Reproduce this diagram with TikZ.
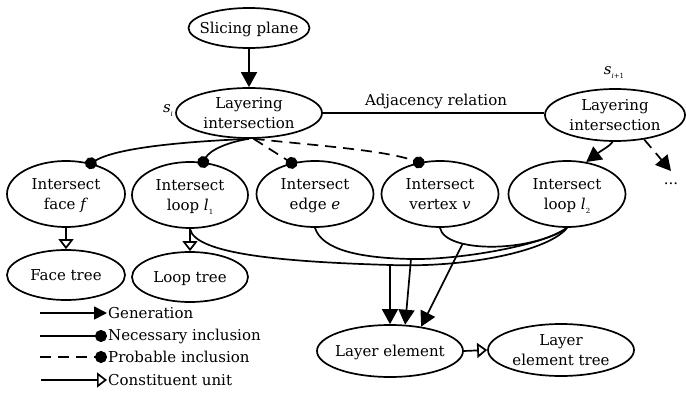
\documentclass[tikz,border=0pt]{standalone}
\usepackage{fontspec}
\setmainfont{DejaVu Serif}
\usetikzlibrary{shapes.geometric,arrows.meta}
\newcommand{\ctext}[1]{\makebox[0pt]{\raisebox{-5.5pt}[0pt][0pt]{\begin{tabular}{@{}c@{}}#1\end{tabular}}}}
\newcommand{\tinysub}[1]{\raisebox{-4pt}{\fontsize{7}{7}\selectfont\textit{#1}}}
\newcommand{\tinyup}[1]{\raisebox{-4pt}{\fontsize{7}{7}\selectfont #1}}
\tikzset{
  ell/.style 2 args={ellipse, draw, line width=1.7pt, inner sep=0pt, minimum width=#1pt, minimum height=#2pt},
  lbl/.style={inner sep=1pt},
  ln/.style={line width=1.7pt},
  gen/.style={ln, -{Triangle[length=15pt,width=16pt]}},
  gensm/.style={ln, -{Triangle[length=13pt,width=13pt]}},
  nec/.style={ln, -{Circle[length=12pt]}},
  necx/.style={nec, shorten >=-6pt},
  dsh/.style={dash pattern=on 11pt off 7pt},
  con/.style={ln, -{Triangle[open,length=10pt,width=15pt,line width=1.7pt]}},
  every node/.style={font=\fontsize{15}{20}\selectfont}
}
\begin{document}
\begin{tikzpicture}[x=1pt,y=-1pt]
\useasboundingbox (0,0) rectangle (686,393);
% nodes
\node[ell={121}{40}] (SP) at (249,28) {\ctext{Slicing plane}};
\node[ell={146}{50}] (Li) at (249,113) {\ctext{Layering\\intersection}};
\node[ell={140}{52}] (Lj) at (615,115) {\ctext{Layering\\intersection}};
\node[lbl] (si) at (168,111) {\textit{s}\tinysub{i}};
\node[lbl] (sj) at (614,73) {\textit{s}\tinysub{i}\tinyup{+1}};
\node[lbl] (adj) at (436,101) {Adjacency relation};
\node[ell={118}{66}] (F) at (66,194) {\ctext{Intersect\\face \textit{f}}};
\node[ell={116}{66}] (L1) at (190,195) {\ctext{Intersect\\loop \textit{l}\tinyup{1}}};
\node[ell={117}{66}] (E) at (315,194) {\ctext{Intersect\\edge \textit{e}}};
\node[ell={117}{66}] (V) at (440,194) {\ctext{Intersect\\vertex \textit{v}}};
\node[ell={117}{66}] (L2) at (567,194) {\ctext{Intersect\\loop \textit{l}\tinyup{2}}};
\node[anchor=north, inner sep=0pt, text height=13pt] (dots) at (671,171) {...};
\node[ell={118}{50}] (FT) at (66,275) {\ctext{Face tree}};
\node[ell={116}{50}] (LT) at (190,277) {\ctext{Loop tree}};
\node[ell={146}{52}] (LE) at (390,351) {\ctext{Layer element}};
\node[ell={146}{52}] (LET) at (561,350) {\ctext{Layer\\element tree}};
% top connectors
\draw[gen] (SP.south) -- (Li.north);
\draw[ln] (Li.east) -- (Li.east -| Lj.west);
\draw[necx] (Li.south) .. controls (200,141) and (120,146) .. (F.51);
\draw[necx] (Li.south) .. controls (228,142) and (210,150) .. (L1.68);
\draw[necx,dsh] (Li.-80) -- (E.127);
\draw[necx,dsh] (Li.-80) .. controls (310,145) and (385,150) .. (V.124);
\draw[gen] (Lj.265) .. controls (610,146) and (602,150) .. (L2.59);
\draw[gen,dsh] (Lj.-40) -- (dots.north);
% constituent
\draw[con] (F.south) -- (FT.north);
\draw[con] (L1.south) -- (LT.north);
\draw[con] (LE.east) -- (LET.west);
% generation joins
\coordinate (m1) at (390,265);
\coordinate (m2) at (411,259);
\draw[ln] (L1.south) .. controls (195,255) and (290,262) .. (m1) .. controls (470,268) and (550,250) .. (L2.south);
\draw[ln] (E.south) .. controls (322,250) and (360,258) .. (m2) .. controls (460,260) and (545,245) .. (L2.south);
\draw[ln] (V.south) .. controls (445,253) and (530,253) .. coordinate[pos=0.3] (m3) (L2.south);
\draw[gen] (m1) -- (LE.north);
\draw[gen] (m2) -- (LE.60);
\draw[gen] (m3) -- (LE.38);
% legend
\node[lbl, anchor=west] (lg1) at (107,313) {Generation};
\node[lbl, anchor=west] (lg2) at (107,336) {Necessary inclusion};
\node[lbl, anchor=west] (lg3) at (107,357) {Probable inclusion};
\node[lbl, anchor=west] (lg4) at (107,380) {Constituent unit};
\coordinate (c1) at (40,313);
\coordinate (c2) at (40,336);
\coordinate (c3) at (40,357);
\coordinate (c4) at (41,380);
\draw[gensm] (c1) -- (lg1.west);
\draw[nec] (c2) -- (lg2.west);
\draw[nec,dsh] (c3) -- (lg3.west);
\draw[con] (c4) -- (lg4.west);
\end{tikzpicture}
\end{document}
